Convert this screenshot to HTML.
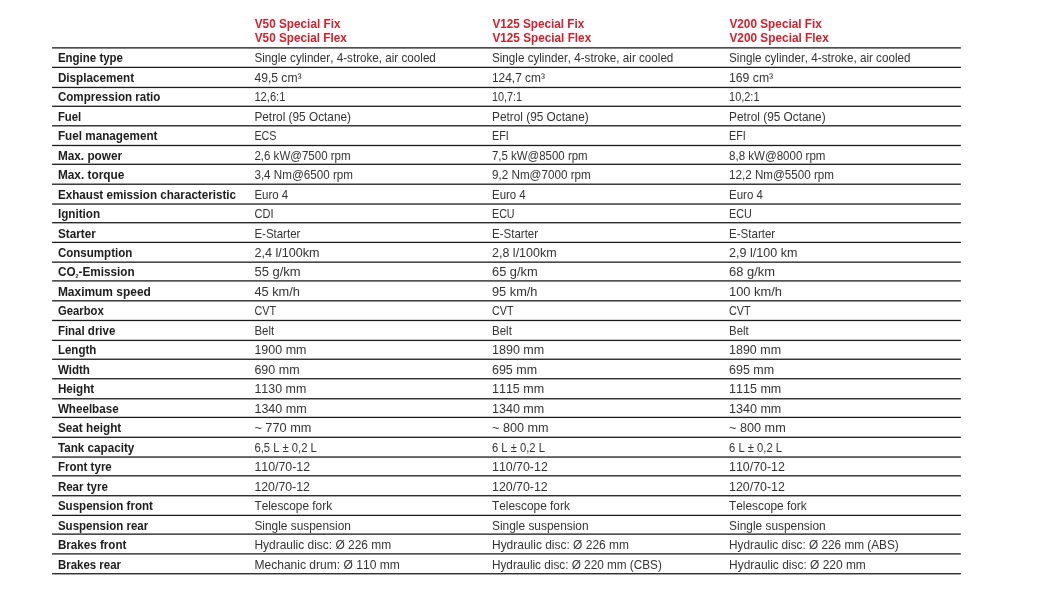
<!DOCTYPE html>
<html lang="en"><head><meta charset="utf-8"><title>Technical data</title>
<style>
html,body{margin:0;padding:0;background:#fff;}
body{width:1045px;height:597px;position:relative;overflow:hidden;font-family:"Liberation Sans",sans-serif;}
svg{position:absolute;left:0;top:0;}
.t{position:absolute;left:0;top:0;white-space:nowrap;transform-origin:0 0;line-height:1;margin:0;}
.l{font-weight:bold;font-size:12.6px;color:#1c1c1c;}
.v{font-size:12.6px;color:#333;font-kerning:none;}
.h{font-weight:bold;font-size:13.1px;color:#d0212e;}
sub{font-size:5.8px;vertical-align:-2px;line-height:0;}
#w{position:absolute;left:0;top:0;width:1045px;height:597px;}
</style></head><body><div id="w">

<svg width="1045" height="597" viewBox="0 0 1045 597"><g fill="#1c1c1c"><rect x="52.1" y="47.23" width="908.8" height="1.3"/><rect x="52.1" y="66.73" width="908.8" height="1.3"/><rect x="52.1" y="86.81" width="908.8" height="1.3"/><rect x="52.1" y="105.63" width="908.8" height="1.3"/><rect x="52.1" y="125.15" width="908.8" height="1.3"/><rect x="52.1" y="144.83" width="908.8" height="1.3"/><rect x="52.1" y="163.65" width="908.8" height="1.3"/><rect x="52.1" y="183.55" width="908.8" height="1.3"/><rect x="52.1" y="203.40" width="908.8" height="1.3"/><rect x="52.1" y="222.07" width="908.8" height="1.3"/><rect x="52.1" y="241.73" width="908.8" height="1.3"/><rect x="52.1" y="261.50" width="908.8" height="1.3"/><rect x="52.1" y="280.25" width="908.8" height="1.3"/><rect x="52.1" y="300.17" width="908.8" height="1.3"/><rect x="52.1" y="319.83" width="908.8" height="1.3"/><rect x="52.1" y="339.75" width="908.8" height="1.3"/><rect x="52.1" y="358.59" width="908.8" height="1.3"/><rect x="52.1" y="378.10" width="908.8" height="1.3"/><rect x="52.1" y="398.13" width="908.8" height="1.3"/><rect x="52.1" y="416.75" width="908.8" height="1.3"/><rect x="52.1" y="436.65" width="908.8" height="1.3"/><rect x="52.1" y="456.40" width="908.8" height="1.3"/><rect x="52.1" y="475.17" width="908.8" height="1.3"/><rect x="52.1" y="495.09" width="908.8" height="1.3"/><rect x="52.1" y="514.73" width="908.8" height="1.3"/><rect x="52.1" y="533.47" width="908.8" height="1.3"/><rect x="52.1" y="553.23" width="908.8" height="1.3"/><rect x="52.1" y="573.10" width="908.8" height="1.3"/></g></svg>
<div class="t h" style="transform:translate(254.75px,17px) scaleX(0.8992)">V50 Special Fix</div>
<div class="t h" style="transform:translate(254.75px,31px) scaleX(0.8979)">V50 Special Flex</div>
<div class="t h" style="transform:translate(492.40px,17px) scaleX(0.8955)">V125 Special Fix</div>
<div class="t h" style="transform:translate(492.40px,31px) scaleX(0.8991)">V125 Special Flex</div>
<div class="t h" style="transform:translate(729.45px,17px) scaleX(0.9004)">V200 Special Fix</div>
<div class="t h" style="transform:translate(729.45px,31px) scaleX(0.9036)">V200 Special Flex</div>
<div class="t l" style="transform:translate(57.90px,52px) scaleX(0.9122)">Engine type</div>
<div class="t v" style="transform:translate(254.40px,52px) scaleX(0.9258)">Single cylinder, 4-stroke, air cooled</div>
<div class="t v" style="transform:translate(492.00px,52px) scaleX(0.9253)">Single cylinder, 4-stroke, air cooled</div>
<div class="t v" style="transform:translate(729.05px,52px) scaleX(0.9255)">Single cylinder, 4-stroke, air cooled</div>
<div class="t l" style="transform:translate(57.90px,72px) scaleX(0.9297)">Displacement</div>
<div class="t v" style="transform:translate(254.40px,72px) scaleX(0.9624)">49,5 cm³</div>
<div class="t v" style="transform:translate(492.00px,72px) scaleX(0.9456)">124,7 cm³</div>
<div class="t v" style="transform:translate(729.05px,72px) scaleX(0.9685)">169 cm³</div>
<div class="t l" style="transform:translate(57.90px,91px) scaleX(0.9215)">Compression ratio</div>
<div class="t v" style="transform:translate(254.40px,91px) scaleX(0.8861)">12,6:1</div>
<div class="t v" style="transform:translate(492.00px,91px) scaleX(0.8608)">10,7:1</div>
<div class="t v" style="transform:translate(729.05px,91px) scaleX(0.8696)">10,2:1</div>
<div class="t l" style="transform:translate(57.90px,111px) scaleX(0.9030)">Fuel</div>
<div class="t v" style="transform:translate(254.40px,111px) scaleX(0.9387)">Petrol (95 Octane)</div>
<div class="t v" style="transform:translate(492.00px,111px) scaleX(0.9401)">Petrol (95 Octane)</div>
<div class="t v" style="transform:translate(729.05px,111px) scaleX(0.9382)">Petrol (95 Octane)</div>
<div class="t l" style="transform:translate(57.90px,130px) scaleX(0.9298)">Fuel management</div>
<div class="t v" style="transform:translate(254.40px,130px) scaleX(0.8555)">ECS</div>
<div class="t v" style="transform:translate(492.00px,130px) scaleX(0.8513)">EFI</div>
<div class="t v" style="transform:translate(729.05px,130px) scaleX(0.8552)">EFI</div>
<div class="t l" style="transform:translate(57.90px,150px) scaleX(0.9369)">Max. power</div>
<div class="t v" style="transform:translate(254.40px,150px) scaleX(0.9148)">2,6 kW@7500 rpm</div>
<div class="t v" style="transform:translate(492.00px,150px) scaleX(0.9090)">7,5 kW@8500 rpm</div>
<div class="t v" style="transform:translate(729.05px,150px) scaleX(0.9167)">8,8 kW@8000 rpm</div>
<div class="t l" style="transform:translate(57.90px,169px) scaleX(0.9408)">Max. torque</div>
<div class="t v" style="transform:translate(254.40px,169px) scaleX(0.9248)">3,4 Nm@6500 rpm</div>
<div class="t v" style="transform:translate(492.00px,169px) scaleX(0.9262)">9,2 Nm@7000 rpm</div>
<div class="t v" style="transform:translate(729.05px,169px) scaleX(0.9237)">12,2 Nm@5500 rpm</div>
<div class="t l" style="transform:translate(57.90px,189px) scaleX(0.9257)">Exhaust emission characteristic</div>
<div class="t v" style="transform:translate(254.40px,189px) scaleX(0.9112)">Euro 4</div>
<div class="t v" style="transform:translate(492.00px,189px) scaleX(0.9085)">Euro 4</div>
<div class="t v" style="transform:translate(729.05px,189px) scaleX(0.9099)">Euro 4</div>
<div class="t l" style="transform:translate(57.90px,208px) scaleX(0.9298)">Ignition</div>
<div class="t v" style="transform:translate(254.40px,208px) scaleX(0.8807)">CDI</div>
<div class="t v" style="transform:translate(492.00px,208px) scaleX(0.8501)">ECU</div>
<div class="t v" style="transform:translate(729.05px,208px) scaleX(0.8521)">ECU</div>
<div class="t l" style="transform:translate(57.90px,228px) scaleX(0.9339)">Starter</div>
<div class="t v" style="transform:translate(254.40px,228px) scaleX(0.9116)">E-Starter</div>
<div class="t v" style="transform:translate(492.00px,228px) scaleX(0.9148)">E-Starter</div>
<div class="t v" style="transform:translate(729.05px,228px) scaleX(0.9157)">E-Starter</div>
<div class="t l" style="transform:translate(57.90px,247px) scaleX(0.9169)">Consumption</div>
<div class="t v" style="transform:translate(254.40px,247px) scaleX(0.9987)">2,4 l/100km</div>
<div class="t v" style="transform:translate(492.00px,247px) scaleX(0.9932)">2,8 l/100km</div>
<div class="t v" style="transform:translate(729.05px,247px) scaleX(0.9955)">2,9 l/100 km</div>
<div class="t l" style="transform:translate(57.90px,266px) scaleX(0.9328)">CO<sub>2</sub>-Emission</div>
<div class="t v" style="transform:translate(254.40px,266px) scaleX(1.0330)">55 g/km</div>
<div class="t v" style="transform:translate(492.00px,266px) scaleX(1.0198)">65 g/km</div>
<div class="t v" style="transform:translate(729.05px,266px) scaleX(1.0262)">68 g/km</div>
<div class="t l" style="transform:translate(57.90px,286px) scaleX(0.9485)">Maximum speed</div>
<div class="t v" style="transform:translate(254.40px,286px) scaleX(1.0152)">45 km/h</div>
<div class="t v" style="transform:translate(492.00px,286px) scaleX(1.0139)">95 km/h</div>
<div class="t v" style="transform:translate(729.05px,286px) scaleX(1.0212)">100 km/h</div>
<div class="t l" style="transform:translate(57.90px,305px) scaleX(0.8975)">Gearbox</div>
<div class="t v" style="transform:translate(254.40px,305px) scaleX(0.8617)">CVT</div>
<div class="t v" style="transform:translate(492.00px,305px) scaleX(0.8577)">CVT</div>
<div class="t v" style="transform:translate(729.05px,305px) scaleX(0.8599)">CVT</div>
<div class="t l" style="transform:translate(57.90px,325px) scaleX(0.9112)">Final drive</div>
<div class="t v" style="transform:translate(254.40px,325px) scaleX(0.9076)">Belt</div>
<div class="t v" style="transform:translate(492.00px,325px) scaleX(0.9149)">Belt</div>
<div class="t v" style="transform:translate(729.05px,325px) scaleX(0.9055)">Belt</div>
<div class="t l" style="transform:translate(57.90px,344px) scaleX(0.9156)">Length</div>
<div class="t v" style="transform:translate(254.40px,344px) scaleX(0.9916)">1900 mm</div>
<div class="t v" style="transform:translate(492.00px,344px) scaleX(0.9945)">1890 mm</div>
<div class="t v" style="transform:translate(729.05px,344px) scaleX(0.9906)">1890 mm</div>
<div class="t l" style="transform:translate(57.90px,364px) scaleX(0.9195)">Width</div>
<div class="t v" style="transform:translate(254.40px,364px) scaleX(0.9923)">690 mm</div>
<div class="t v" style="transform:translate(492.00px,364px) scaleX(0.9900)">695 mm</div>
<div class="t v" style="transform:translate(729.05px,364px) scaleX(0.9911)">695 mm</div>
<div class="t l" style="transform:translate(57.90px,383px) scaleX(0.9266)">Height</div>
<div class="t v" style="transform:translate(254.40px,383px) scaleX(0.9883)">1130 mm</div>
<div class="t v" style="transform:translate(492.00px,383px) scaleX(0.9932)">1115 mm</div>
<div class="t v" style="transform:translate(729.05px,383px) scaleX(0.9941)">1115 mm</div>
<div class="t l" style="transform:translate(57.90px,403px) scaleX(0.9225)">Wheelbase</div>
<div class="t v" style="transform:translate(254.40px,403px) scaleX(0.9966)">1340 mm</div>
<div class="t v" style="transform:translate(492.00px,403px) scaleX(0.9946)">1340 mm</div>
<div class="t v" style="transform:translate(729.05px,403px) scaleX(0.9955)">1340 mm</div>
<div class="t l" style="transform:translate(57.90px,422px) scaleX(0.9329)">Seat height</div>
<div class="t v" style="transform:translate(254.40px,422px) scaleX(1.0110)">~ 770 mm</div>
<div class="t v" style="transform:translate(492.00px,422px) scaleX(1.0049)">~ 800 mm</div>
<div class="t v" style="transform:translate(729.05px,422px) scaleX(1.0058)">~ 800 mm</div>
<div class="t l" style="transform:translate(57.90px,442px) scaleX(0.9281)">Tank capacity</div>
<div class="t v" style="transform:translate(254.40px,442px) scaleX(0.8932)">6,5 L ± 0,2 L</div>
<div class="t v" style="transform:translate(492.00px,442px) scaleX(0.8898)">6 L ± 0,2 L</div>
<div class="t v" style="transform:translate(729.05px,442px) scaleX(0.8906)">6 L ± 0,2 L</div>
<div class="t l" style="transform:translate(57.90px,461px) scaleX(0.9170)">Front tyre</div>
<div class="t v" style="transform:translate(254.40px,461px) scaleX(0.9803)">110/70-12</div>
<div class="t v" style="transform:translate(492.00px,461px) scaleX(0.9831)">110/70-12</div>
<div class="t v" style="transform:translate(729.05px,461px) scaleX(0.9839)">110/70-12</div>
<div class="t l" style="transform:translate(57.90px,481px) scaleX(0.9146)">Rear tyre</div>
<div class="t v" style="transform:translate(254.40px,481px) scaleX(0.9792)">120/70-12</div>
<div class="t v" style="transform:translate(492.00px,481px) scaleX(0.9821)">120/70-12</div>
<div class="t v" style="transform:translate(729.05px,481px) scaleX(0.9828)">120/70-12</div>
<div class="t l" style="transform:translate(57.90px,500px) scaleX(0.9171)">Suspension front</div>
<div class="t v" style="transform:translate(254.40px,500px) scaleX(0.9404)">Telescope fork</div>
<div class="t v" style="transform:translate(492.00px,500px) scaleX(0.9422)">Telescope fork</div>
<div class="t v" style="transform:translate(729.05px,500px) scaleX(0.9399)">Telescope fork</div>
<div class="t l" style="transform:translate(57.90px,520px) scaleX(0.9154)">Suspension rear</div>
<div class="t v" style="transform:translate(254.40px,520px) scaleX(0.9436)">Single suspension</div>
<div class="t v" style="transform:translate(492.00px,520px) scaleX(0.9451)">Single suspension</div>
<div class="t v" style="transform:translate(729.05px,520px) scaleX(0.9456)">Single suspension</div>
<div class="t l" style="transform:translate(57.90px,539px) scaleX(0.9241)">Brakes front</div>
<div class="t v" style="transform:translate(254.40px,539px) scaleX(0.9490)">Hydraulic disc: Ø 226 mm</div>
<div class="t v" style="transform:translate(492.00px,539px) scaleX(0.9500)">Hydraulic disc: Ø 226 mm</div>
<div class="t v" style="transform:translate(729.05px,539px) scaleX(0.9364)">Hydraulic disc: Ø 226 mm (ABS)</div>
<div class="t l" style="transform:translate(57.90px,559px) scaleX(0.9113)">Brakes rear</div>
<div class="t v" style="transform:translate(254.40px,559px) scaleX(0.9575)">Mechanic drum: Ø 110 mm</div>
<div class="t v" style="transform:translate(492.00px,559px) scaleX(0.9334)">Hydraulic disc: Ø 220 mm (CBS)</div>
<div class="t v" style="transform:translate(729.05px,559px) scaleX(0.9486)">Hydraulic disc: Ø 220 mm</div>
</div></body></html>
